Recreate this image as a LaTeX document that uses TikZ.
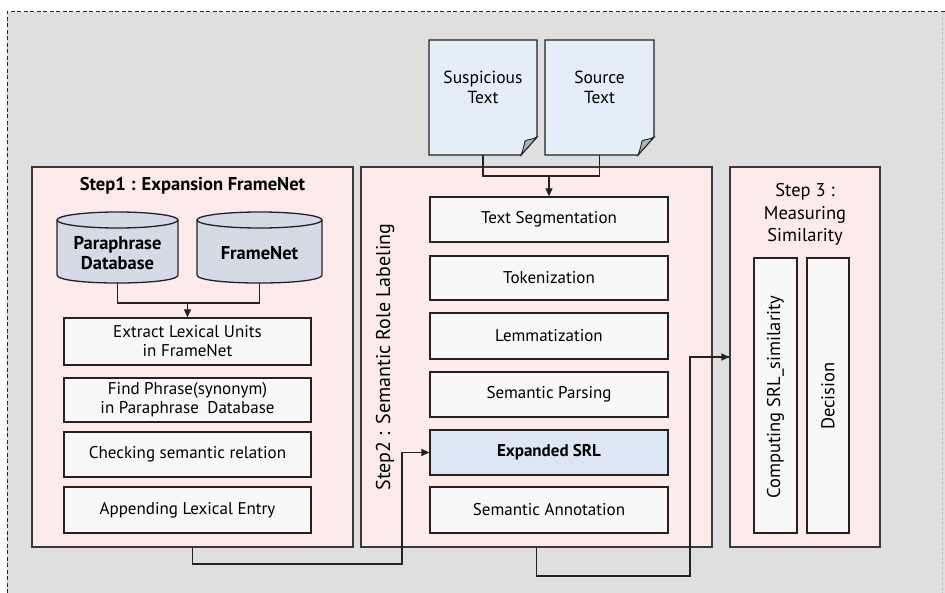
\documentclass[tikz,border=0pt]{standalone}
\usepackage{fontspec}
\setmainfont{PT Sans}
\usetikzlibrary{arrows.meta}
\definecolor{bggray}{HTML}{DFDFDF}
\definecolor{steppink}{HTML}{FDEBEB}
\definecolor{stepline}{HTML}{3A3A3A}
\definecolor{boxline}{HTML}{222222}
\definecolor{boxfill}{HTML}{F8F8F8}
\definecolor{srlblue}{HTML}{DCE6F5}
\definecolor{dbfill}{HTML}{D4DBE5}
\definecolor{docfill}{HTML}{E3EEF9}
\definecolor{foldfill}{HTML}{A9B3BE}
\begin{document}
\begin{tikzpicture}[x=1pt,y=-1pt,
  stepbox/.style={draw=stepline, fill=steppink, line width=1.2pt, inner sep=0pt},
  procbox/.style={draw=boxline, fill=boxfill, line width=1.3pt, inner sep=0pt,
    align=center, font=\fontsize{17}{19}\selectfont},
  titletext/.style={inner sep=0pt, align=center, font=\fontsize{19}{22}\selectfont},
  conn/.style={draw=boxline, line width=1.2pt},
  arr/.style={conn, -{Triangle[length=8pt,width=7pt]}},
  ghost/.style={inner sep=0pt},
]
\useasboundingbox (0,0) rectangle (945,593);
% backdrop with its dashed frame
\fill[bggray] (7,12) rectangle (945,593);
\draw[black!85, line width=1pt, dash pattern=on 4pt off 2.5pt] (7,593) -- (7,12) -- (945,12);
\draw[black!25, line width=0.8pt, dash pattern=on 3pt off 2pt] (942,12) -- (942,593);

% the three stages
\node[stepbox, minimum width=321pt, minimum height=380pt] (s1) at (192.5,357) {};
\node[stepbox, minimum width=351pt, minimum height=380pt] (s2) at (536.5,357) {};
\node[stepbox, minimum width=150pt, minimum height=380pt] (s3) at (805,357) {};

% stage 1
\node[titletext, font=\fontsize{18.5}{22}\selectfont\bfseries] (t1) at (192.5,186) {Step1 : Expansion FrameNet};

% databases drawn as cylinders
\foreach \cx/\rx in {117.5/60.5, 259.5/62.5}{
  \path[draw=boxline, fill=dbfill, line width=1.3pt]
    (\cx-\rx,220) -- (\cx-\rx,275)
    .. controls (\cx-\rx,285.7) and (\cx+\rx,285.7) .. (\cx+\rx,275)
    -- (\cx+\rx,220);
  \draw[boxline, fill=dbfill, line width=1.3pt] (\cx,220) ellipse [x radius=\rx, y radius=8];
}
\node[ghost, minimum width=121pt, minimum height=60pt] (pdb) at (117.5,253) {};
\node[ghost, minimum width=125pt, minimum height=60pt] (fn) at (259.5,253) {};
\node[titletext, font=\fontsize{18.5}{20.5}\selectfont\bfseries] (pdbtxt) at (117.5,253) {Paraphrase\\Database};
\node[titletext, font=\fontsize{18.5}{20.5}\selectfont\bfseries] (fntxt) at (259.5,253) {FrameNet};

\node[procbox, minimum width=247pt, minimum height=47pt] (ext) at (187.5,341.5) {Extract Lexical Units\\in FrameNet};
\node[procbox, minimum width=247pt, minimum height=44pt] (find) at (187.5,400) {Find Phrase(synonym)\\in Paraphrase\enspace Database};
\node[procbox, minimum width=247pt, minimum height=45pt] (chk) at (187.5,454.5) {Checking semantic relation};
\node[procbox, minimum width=247pt, minimum height=46pt] (app) at (187.5,510) {Appending Lexical Entry};

\coordinate (j1) at (187.5,303);
\draw[conn] (pdb.south) |- (j1) -| (fn.south);
\draw[arr] (j1) -- (ext.north);

% input documents with a folded corner
\foreach \x/\y in {429/537, 545/654}{
  \path[draw=boxline, fill=docfill, line width=1.3pt]
    (\x,40) -- (\y,40) -- (\y,137) -- (\y-16,155) -- (\x,155) -- cycle;
  \path[draw=boxline, fill=foldfill, line width=0.9pt]
    (\y,137) .. controls (\y-5,140) and (\y-9,139) .. (\y-12,141)
    .. controls (\y-13,146) and (\y-14,150) .. (\y-16,155) -- cycle;
}
\node[ghost, minimum width=108pt, minimum height=115pt] (susp) at (483,97.5) {};
\node[ghost, minimum width=109pt, minimum height=115pt] (src) at (599.5,97.5) {};
\node[titletext, font=\fontsize{17.5}{20}\selectfont] (susptxt) at (483,87.5) {Suspicious\\Text};
\node[titletext, font=\fontsize{17.5}{20}\selectfont] (srctxt) at (599.5,87.5) {Source\\Text};

% stage 2
\node[titletext, rotate=90, font=\fontsize{20}{22}\selectfont] (t2) at (385,357) {Step2 : Semantic Role Labeling};
\node[procbox, minimum width=238pt, minimum height=45pt] (seg) at (549,219.5) {Text Segmentation};
\node[procbox, minimum width=238pt, minimum height=44pt] (tok) at (549,278) {Tokenization};
\node[procbox, minimum width=238pt, minimum height=46pt] (lem) at (549,336) {Lemmatization};
\node[procbox, minimum width=238pt, minimum height=45pt] (par) at (549,394.5) {Semantic Parsing};
\node[procbox, fill=srlblue, minimum width=238pt, minimum height=45pt, font=\fontsize{17}{19}\selectfont\bfseries] (exp) at (549,452.5) {Expanded SRL};
\node[procbox, minimum width=238pt, minimum height=46pt] (ann) at (549,510) {Semantic Annotation};

\coordinate (j2) at (549,176);
\draw[conn] (susp.south) |- (j2) -| (src.south);
\draw[arr] (j2) -- (seg.north);

% stage 3
\node[titletext, font=\fontsize{18.5}{22.5}\selectfont] (t3) at (805,214.5) {Step 3 :\\Measuring\\Similarity};
\node[procbox, minimum width=43pt, minimum height=275pt] (cmp) at (775.5,395.5) {};
\node[procbox, minimum width=42pt, minimum height=275pt] (dec) at (828,395.5) {};
\node[titletext, rotate=90, font=\fontsize{18.5}{20}\selectfont] (cmptxt) at (775.5,397) {Computing SRL\_similarity};
\node[titletext, rotate=90, font=\fontsize{18.5}{20}\selectfont] (dectxt) at (828,396) {Decision};

% flow between the stages
\coordinate (b1) at (192.5,564);
\coordinate (b2) at (402,564);
\draw[conn] (s1.south) -- (b1) -- (b2) |- (exp.west);
\draw[arr] (b2 |- exp.west) -- (exp.west);
\coordinate (c1) at (536.5,576);
\coordinate (c2) at (690,576);
\draw[conn] (s2.south) -- (c1) -- (c2) |- (s3.west);
\draw[arr] (c2 |- s3.west) -- (s3.west);
\end{tikzpicture}
\end{document}
